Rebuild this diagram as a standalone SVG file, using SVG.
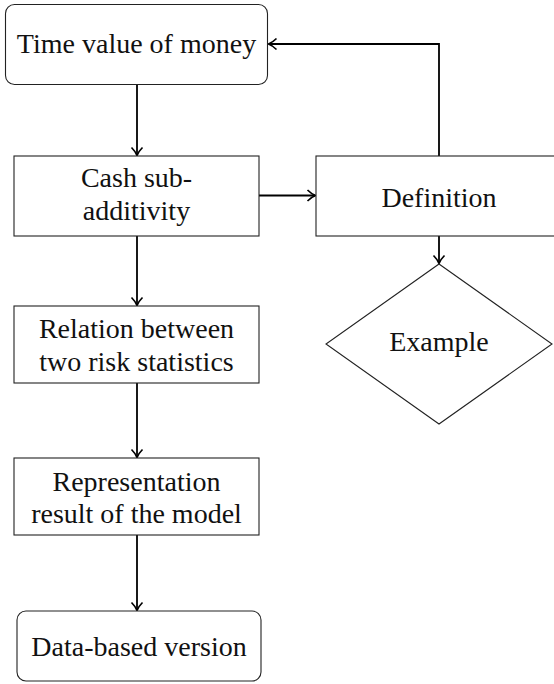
<svg xmlns="http://www.w3.org/2000/svg" width="554" height="684" viewBox="0 0 554 684">
<style>
.n{fill:#fff;stroke:#222;stroke-width:1.1}
.t{font-family:"Liberation Serif","DejaVu Serif",serif;font-size:28px;fill:#111;text-anchor:middle}
.c{fill:none;stroke:#000;stroke-width:1.8}
</style>
<defs>
<marker id="ah" markerWidth="14" markerHeight="14" refX="10" refY="7" orient="auto" markerUnits="userSpaceOnUse">
<path d="M2.5,1.5 Q6.5,5.5 10.5,7 Q6.5,8.5 2.5,12.5" fill="none" stroke="#000" stroke-width="1.7"/>
</marker>
</defs>
<g id="connectors">
<path class="c" d="M137,85 V155" marker-end="url(#ah)"/>
<path class="c" d="M259,195.5 H315" marker-end="url(#ah)"/>
<path class="c" d="M439,156 V44 H269" marker-end="url(#ah)"/>
<path class="c" d="M439,236 V263" marker-end="url(#ah)"/>
<path class="c" d="M137,236 V305" marker-end="url(#ah)"/>
<path class="c" d="M137,383 V457" marker-end="url(#ah)"/>
<path class="c" d="M137,535 V610" marker-end="url(#ah)"/>
</g>
<g id="time">
<rect class="n" x="5.5" y="4.5" width="262" height="80" rx="9"/>
<text class="t" x="136.5" y="53">Time value of money</text>
</g>
<g id="cash">
<rect class="n" x="14" y="156" width="245" height="80"/>
<text class="t" x="136.5" y="187">Cash sub-</text>
<text class="t" x="136.5" y="219.5">additivity</text>
</g>
<g id="definition">
<rect class="n" x="316" y="156" width="245" height="80"/>
<text class="t" x="439" y="207">Definition</text>
</g>
<g id="example">
<polygon class="n" points="439,264 552,344 439,424 326,344"/>
<text class="t" x="439" y="351">Example</text>
</g>
<g id="relation">
<rect class="n" x="14" y="306" width="245" height="77"/>
<text class="t" x="136.5" y="337.5">Relation between</text>
<text class="t" x="136.5" y="371">two risk statistics</text>
</g>
<g id="representation">
<rect class="n" x="14" y="458" width="245" height="77"/>
<text class="t" x="136.5" y="491">Representation</text>
<text class="t" x="136.5" y="523">result of the model</text>
</g>
<g id="data">
<rect class="n" x="17" y="611" width="244" height="70" rx="9"/>
<text class="t" x="139" y="656">Data-based version</text>
</g>
</svg>
